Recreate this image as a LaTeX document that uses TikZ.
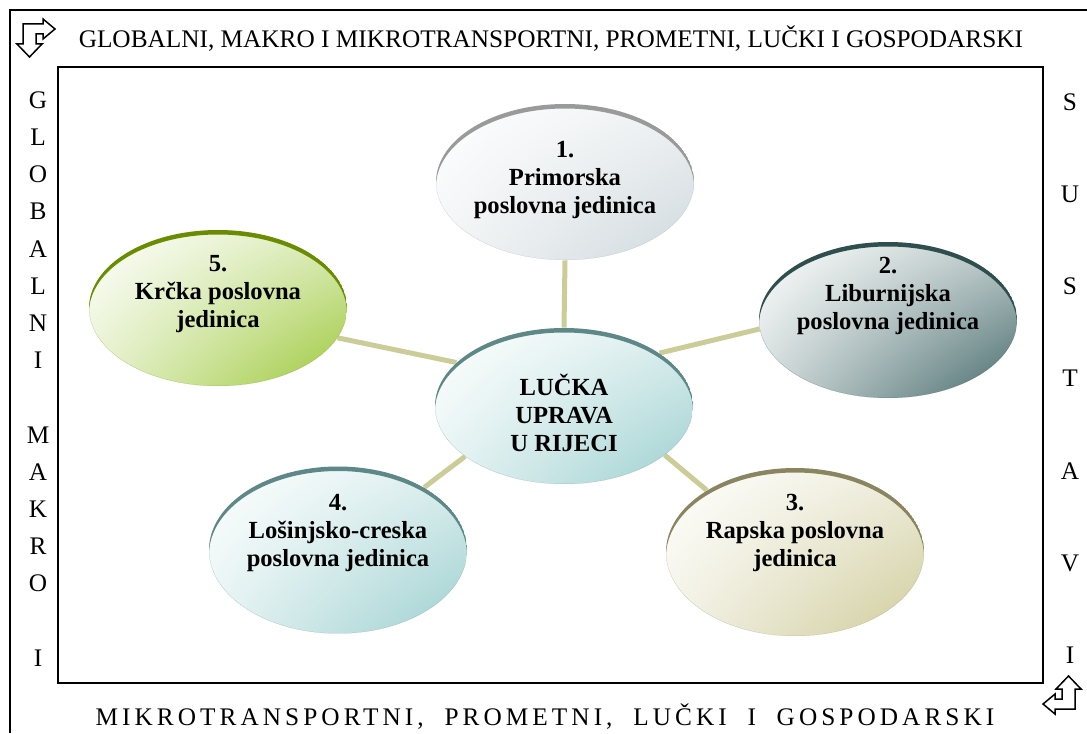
\documentclass[tikz,border=0pt]{standalone}
\usepackage{fontspec}
\setmainfont{Liberation Serif}
\usetikzlibrary{shapes.geometric,backgrounds,shadings,calc}

\definecolor{linkc}{HTML}{CCCC99}
\definecolor{arcgray}{HTML}{9A9A9A}   \definecolor{fillgray}{HTML}{CFD8DC}
\definecolor{arcslate}{HTML}{2F4F4F}  \definecolor{fillslate}{HTML}{45696A}
\definecolor{arcolive}{HTML}{8A8560}  \definecolor{fillolive}{HTML}{CFCB9A}
\definecolor{arcteal}{HTML}{5E8888}   \definecolor{fillteal}{HTML}{9CCFCF}
\definecolor{arcgreen}{HTML}{6A8C00}  \definecolor{fillgreen}{HTML}{9CC83A}

\tikzset{
  unit/.style 2 args={ellipse, shade, minimum width=5.16cm, minimum height=3.12cm, inner sep=0pt,
    upper left=white, upper right=#2!35, lower left=#2!25, lower right=#2,
    path picture={\fill[#1,even odd rule]
      let \p1=($(path picture bounding box.north east)-(path picture bounding box.center)$) in
      (path picture bounding box.center) ellipse[x radius=\x1,y radius=\y1]
      ([yshift=-0.9mm]path picture bounding box.center) ellipse[x radius=\x1,y radius=\y1];}},
  unittext/.style={align=center, font=\bfseries\fontsize{14}{15.9}\selectfont},
  link/.style={draw=linkc, line width=0.1cm},
  frametext/.style={font=\fontsize{14.4}{17}\selectfont},
  framebox/.style={line width=0.04cm}
}
\newcommand\turnarrow{%
  \draw[line width=0.03cm, line join=miter] (23,24) -- (43,24) -- (43,19) -- (55,29) -- (43,39) -- (43,34)
    -- (36,34) -- (36,44) -- (42,44) -- (29.5,57) -- (17,44) -- (23,44) -- cycle;}

\begin{document}
\begin{tikzpicture}[x=0.02cm,y=-0.02cm]
  \useasboundingbox (0,0) rectangle (1087,733);
  % frames
  \draw[framebox] (10,733) -- (10,10) -- (1087,10);
  \draw[framebox] (58,67) rectangle (1043,683);
  \turnarrow
  \begin{scope}[shift={(1098,733)},rotate=180]
    \turnarrow
  \end{scope}
  % frame texts
  \node[frametext] (toptext) at (551,39) {GLOBALNI, MAKRO I MIKROTRANSPORTNI, PROMETNI, LUČKI I GOSPODARSKI};
  \node[frametext] (bottomtext) at (545,717) {\addfontfeature{LetterSpace=16}MIKROTRANSPORTNI, \ PROMETNI, \ LUČKI \ I \ GOSPODARSKI};
  \foreach \ch [count=\i from 0] in {G,L,O,B,A,L,N,I,,M,A,K,R,O,,I}
    \node[frametext] (left\i) at (38,100+37.2*\i) {\ch};
  \foreach \ch [count=\i from 0] in {S,U,S,T,A,V,I}
    \node[frametext] (right\i) at (1070,102+92.2*\i) {\ch};

  % units
  \node[unit={arcgray}{fillgray}] (p1) at (565,182) {};
  \node[unit={arcslate}{fillslate}] (p2) at (888,320) {};
  \node[unit={arcolive}{fillolive}, minimum height=3.36cm] (p3) at (795,552) {};
  \node[unit={arcteal}{fillteal}, minimum height=3.34cm] (p4) at (338,550) {};
  \node[unit={arcgreen}{fillgreen}] (p5) at (218,308) {};
  \node[unit={arcteal}{fillteal}] (c) at (564,406) {};

  \node[unittext] (t1) at (565,180) {1.\\Primorska\\poslovna jedinica};
  \node[unittext] (t2) at (888,296) {2.\\Liburnijska\\poslovna jedinica};
  \node[unittext] (t3) at (795,533) {3.\\Rapska poslovna\\jedinica};
  \node[unittext] (t4) at (338,533) {4.\\Lošinjsko-creska\\poslovna jedinica};
  \node[unittext] (t5) at (218,294) {5.\\Krčka poslovna\\jedinica};
  \node[unittext] (tc) at (564,413) {LUČKA\\UPRAVA\\U RIJECI};

  \begin{scope}[on background layer]
    \draw[link] (c.90) -- (p1.270);
    \draw[link] (c.29) -- (p2.184);
    \draw[link] (c.334) -- (p3.145);
    \draw[link] (c.207) -- (p4.36);
    \draw[link] (c.158) -- (p5.346);
  \end{scope}
\end{tikzpicture}
\end{document}
